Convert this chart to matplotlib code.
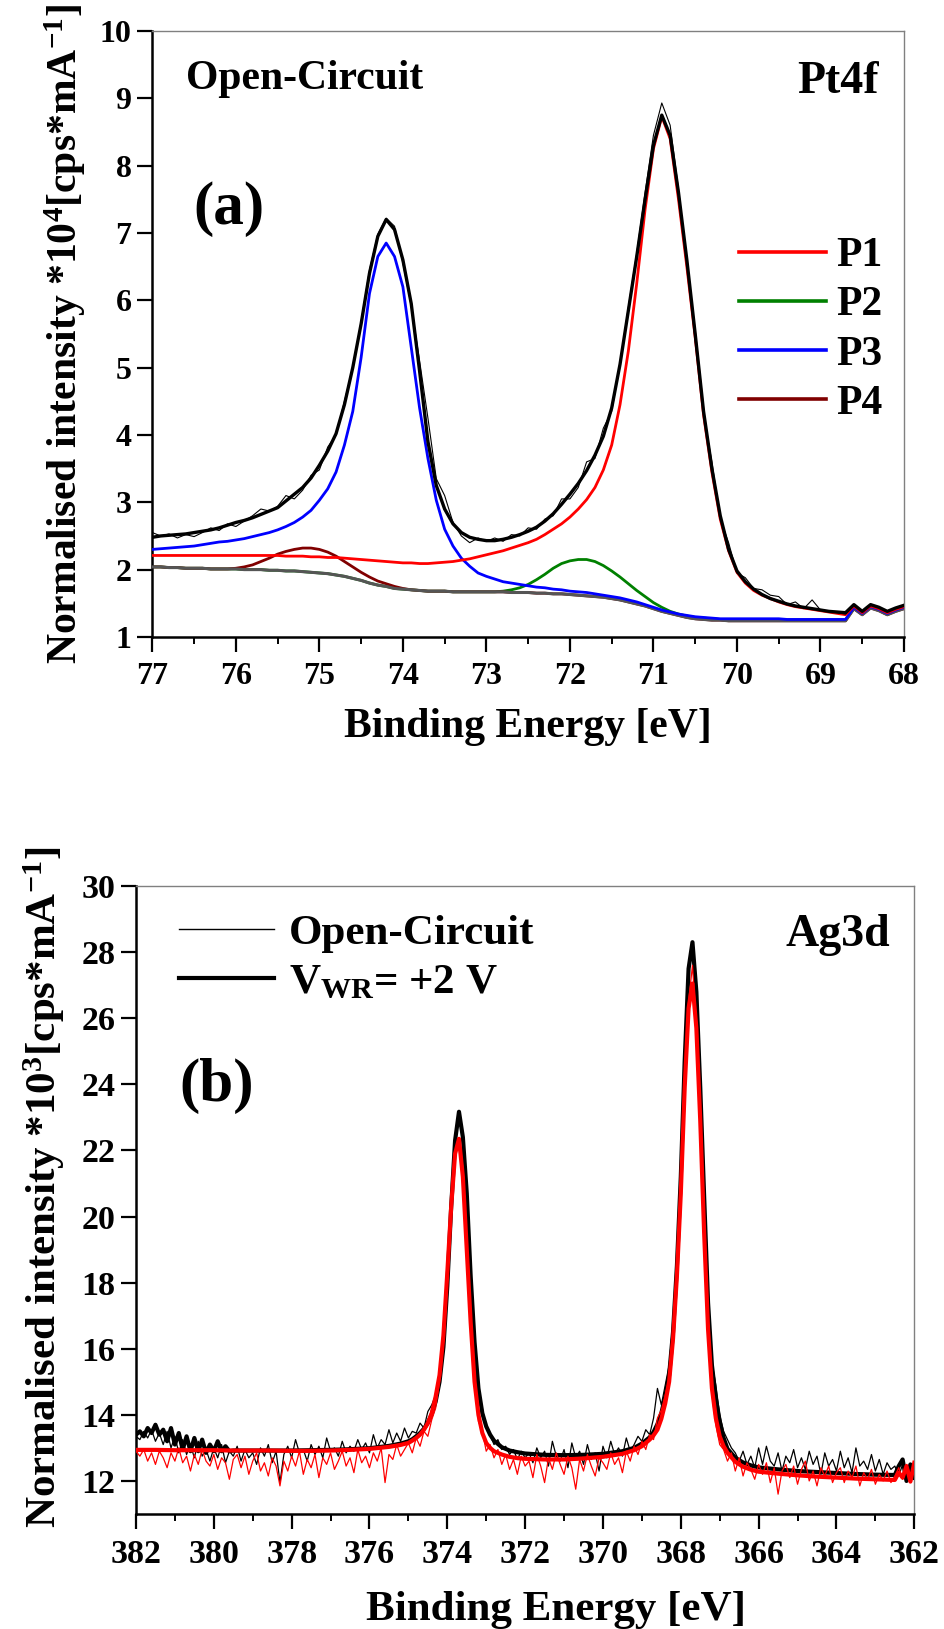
import numpy as np
import matplotlib
matplotlib.use('Agg')
import matplotlib.pyplot as plt
from matplotlib.ticker import MultipleLocator
from matplotlib.lines import Line2D

SERIF = 'Liberation Serif'
plt.rcParams['font.family'] = 'serif'
plt.rcParams['font.serif'] = [SERIF, 'DejaVu Serif']
plt.rcParams['font.weight'] = 'bold'
plt.rcParams['mathtext.fontset'] = 'custom'
plt.rcParams['mathtext.rm'] = SERIF + ':bold'
plt.rcParams['mathtext.bf'] = SERIF + ':bold'
plt.rcParams['mathtext.it'] = SERIF + ':bold'
plt.rcParams['mathtext.default'] = 'rm'

# ---------------- panel (a): Pt4f, 77 -> 68 eV in 0.1 eV steps ----------------
energy_a = np.linspace(77, 68, 91)

raw_a = [2.55, 2.50, 2.53, 2.47, 2.52, 2.49, 2.55, 2.62, 2.58, 2.68,
         2.64, 2.72, 2.80, 2.90, 2.87, 2.94, 3.10, 3.05, 3.18, 3.40,
         3.48, 3.82, 4.00, 4.50, 5.00, 5.68, 6.45, 6.98, 7.22, 7.10,
         6.55, 5.92, 5.10, 4.25, 3.35, 3.10, 2.70, 2.50, 2.40, 2.47,
         2.42, 2.47, 2.42, 2.52, 2.50, 2.62, 2.60, 2.75, 2.80, 3.05,
         3.05, 3.22, 3.60, 3.65, 4.10, 4.35, 5.05, 5.90, 6.70, 7.60,
         8.45, 8.93, 8.60, 7.65, 6.55, 5.40, 4.30, 3.60, 2.75, 2.40,
         1.95, 1.88, 1.72, 1.70, 1.62, 1.60, 1.48, 1.52, 1.42, 1.55,
         1.40, 1.38, 1.36, 1.34, 1.48, 1.38, 1.48, 1.44, 1.38, 1.43,
         1.47]

envelope_a = [2.48, 2.50, 2.51, 2.52, 2.53, 2.55, 2.57, 2.59, 2.62, 2.66,
              2.70, 2.73, 2.77, 2.82, 2.87, 2.92, 3.02, 3.12, 3.22, 3.36,
              3.55, 3.76, 4.02, 4.45, 5.00, 5.65, 6.40, 6.95, 7.20, 7.05,
              6.60, 5.95, 4.95, 3.90, 3.25, 2.90, 2.68, 2.55, 2.48, 2.45,
              2.43, 2.43, 2.45, 2.48, 2.52, 2.57, 2.63, 2.72, 2.83, 2.97,
              3.12, 3.28, 3.47, 3.70, 3.98, 4.40, 5.05, 5.85, 6.65, 7.50,
              8.30, 8.75, 8.45, 7.60, 6.60, 5.50, 4.35, 3.50, 2.80, 2.30,
              1.98, 1.82, 1.71, 1.63, 1.57, 1.53, 1.49, 1.46, 1.44, 1.42,
              1.40, 1.38, 1.37, 1.36, 1.48, 1.38, 1.48, 1.44, 1.38, 1.43,
              1.47]

p1 = [2.21, 2.21, 2.21, 2.21, 2.21, 2.21, 2.21, 2.21, 2.21, 2.21,
      2.21, 2.21, 2.21, 2.21, 2.21, 2.21, 2.20, 2.20, 2.20, 2.19,
      2.19, 2.18, 2.18, 2.17, 2.16, 2.15, 2.14, 2.13, 2.12, 2.11,
      2.10, 2.10, 2.09, 2.09, 2.10, 2.11, 2.12, 2.14, 2.16, 2.19,
      2.22, 2.25, 2.28, 2.32, 2.36, 2.40, 2.45, 2.52, 2.60, 2.68,
      2.78, 2.90, 3.04, 3.22, 3.48, 3.85, 4.45, 5.25, 6.25, 7.35,
      8.25, 8.73, 8.40, 7.50, 6.50, 5.45, 4.30, 3.45, 2.75, 2.28,
      1.96, 1.80, 1.69, 1.62, 1.57, 1.52, 1.48, 1.45, 1.43, 1.41,
      1.39, 1.37, 1.35, 1.33, 1.46, 1.36, 1.46, 1.42, 1.36, 1.41,
      1.45]

p2 = [2.04, 2.04, 2.03, 2.03, 2.02, 2.02, 2.02, 2.01, 2.01, 2.01,
      2.01, 2.00, 2.00, 2.00, 1.99, 1.99, 1.98, 1.98, 1.97, 1.96,
      1.95, 1.94, 1.92, 1.90, 1.87, 1.84, 1.80, 1.77, 1.75, 1.72,
      1.71, 1.70, 1.69, 1.68, 1.68, 1.68, 1.67, 1.67, 1.67, 1.67,
      1.67, 1.67, 1.68, 1.70, 1.73, 1.78, 1.85, 1.93, 2.02, 2.09,
      2.13, 2.15, 2.15, 2.12, 2.06, 1.98, 1.89, 1.79, 1.69, 1.60,
      1.51, 1.44, 1.38, 1.34, 1.31, 1.29, 1.28, 1.27, 1.26, 1.26,
      1.25, 1.25, 1.25, 1.25, 1.25, 1.25, 1.25, 1.25, 1.25, 1.25,
      1.25, 1.25, 1.25, 1.25, 1.43, 1.34, 1.44, 1.40, 1.34, 1.39,
      1.43]

p3 = [2.30, 2.31, 2.32, 2.33, 2.34, 2.35, 2.37, 2.39, 2.41, 2.42,
      2.44, 2.46, 2.49, 2.52, 2.55, 2.59, 2.64, 2.70, 2.78, 2.88,
      3.03, 3.20, 3.45, 3.85, 4.35, 5.15, 6.10, 6.65, 6.85, 6.65,
      6.20, 5.30, 4.40, 3.65, 3.03, 2.60, 2.35, 2.17, 2.05, 1.95,
      1.90, 1.86, 1.82, 1.80, 1.78, 1.76, 1.74, 1.73, 1.71, 1.70,
      1.68, 1.67, 1.66, 1.64, 1.62, 1.60, 1.58, 1.55, 1.52, 1.48,
      1.44, 1.40, 1.37, 1.34, 1.32, 1.30, 1.29, 1.28, 1.27, 1.27,
      1.27, 1.27, 1.27, 1.27, 1.27, 1.27, 1.26, 1.26, 1.26, 1.26,
      1.26, 1.26, 1.26, 1.26, 1.44, 1.35, 1.45, 1.41, 1.35, 1.40,
      1.44]

p4 = [2.04, 2.04, 2.03, 2.03, 2.02, 2.02, 2.02, 2.01, 2.01, 2.01,
      2.02, 2.04, 2.07, 2.12, 2.17, 2.23, 2.27, 2.30, 2.32, 2.32,
      2.30, 2.26, 2.20, 2.12, 2.04, 1.96, 1.89, 1.83, 1.79, 1.75,
      1.72, 1.70, 1.69, 1.68, 1.68, 1.68, 1.67, 1.67, 1.67, 1.67,
      1.67, 1.67, 1.67, 1.66, 1.66, 1.66, 1.65, 1.65, 1.64, 1.64,
      1.63, 1.62, 1.61, 1.60, 1.59, 1.57, 1.55, 1.52, 1.49, 1.46,
      1.42, 1.38, 1.35, 1.32, 1.29, 1.27, 1.26, 1.25, 1.25, 1.24,
      1.24, 1.24, 1.24, 1.24, 1.24, 1.24, 1.24, 1.24, 1.24, 1.24,
      1.24, 1.24, 1.24, 1.24, 1.42, 1.33, 1.43, 1.39, 1.33, 1.38,
      1.42]

background_a = [2.04, 2.04, 2.03, 2.03, 2.02, 2.02, 2.02, 2.01, 2.01, 2.01,
                2.01, 2.00, 2.00, 2.00, 1.99, 1.99, 1.98, 1.98, 1.97, 1.96,
                1.95, 1.94, 1.92, 1.90, 1.87, 1.84, 1.80, 1.77, 1.75, 1.72,
                1.71, 1.70, 1.69, 1.68, 1.68, 1.68, 1.67, 1.67, 1.67, 1.67,
                1.67, 1.67, 1.67, 1.66, 1.66, 1.66, 1.65, 1.65, 1.64, 1.64,
                1.63, 1.62, 1.61, 1.60, 1.59, 1.57, 1.55, 1.52, 1.49, 1.46,
                1.42, 1.38, 1.35, 1.32, 1.29, 1.27, 1.26, 1.25, 1.25, 1.24,
                1.24, 1.24, 1.24, 1.24, 1.24, 1.24, 1.24, 1.24, 1.24, 1.24,
                1.24, 1.24, 1.24, 1.24, 1.42, 1.33, 1.43, 1.39, 1.33, 1.38,
                1.42]

# ---------------- panel (b): Ag3d ----------------
energy_b = np.linspace(382, 362, 201)

oc_raw = [13.35, 13.25, 13.50, 13.30, 13.55, 13.20, 13.45, 13.10, 13.50, 13.00, 13.35,
          12.85, 13.25, 12.80, 13.10, 12.70, 13.20, 12.75, 12.95, 12.60, 13.00,
          12.70, 13.10, 12.55, 12.90, 12.75, 13.05, 12.60, 12.95, 12.70, 12.85,
          12.50, 13.00, 12.75, 13.10, 12.55, 12.90, 11.95, 12.80, 13.05, 12.70,
          13.25, 12.85, 12.95, 12.60, 13.10, 12.80, 13.05, 12.70, 13.30, 12.90,
          13.00, 12.75, 13.20, 12.85, 13.05, 12.90, 13.25, 12.95, 13.15, 12.85,
          13.40, 13.00, 13.25, 13.10, 13.55, 13.15, 13.45, 13.20, 13.60, 13.30,
          13.50, 13.45, 13.75, 13.60, 14.10, 14.30, 14.60, 15.20, 16.30, 18.10,
          20.20, 22.40, 23.10, 22.30, 20.20, 17.70, 16.00, 14.50, 14.20, 13.60,
          13.40, 13.10, 13.25, 12.95, 13.05, 12.80, 12.95, 12.65, 12.90, 12.70,
          12.85, 12.55, 13.00, 12.70, 12.90, 12.45, 13.20, 12.75, 12.60, 12.95,
          12.40, 13.15, 12.70, 12.90, 12.50, 13.10, 12.65, 12.85, 12.30, 13.05,
          12.70, 13.20, 12.80, 13.00, 12.75, 13.30, 12.90, 13.10, 13.35, 13.20,
          13.55, 13.40, 13.90, 14.80, 14.30, 14.90, 15.50, 16.80, 18.60, 21.30,
          24.60, 27.60, 28.20, 26.90, 24.00, 20.80, 17.60, 15.60, 14.90, 14.00,
          13.50, 13.25, 13.00, 12.85, 12.60, 12.90, 12.50, 12.75, 12.40, 13.00,
          12.50, 13.05, 12.60, 12.45, 12.85, 12.30, 12.75, 12.55, 12.95, 12.40,
          12.70, 12.35, 12.90, 12.50, 12.75, 12.20, 12.85, 12.45, 12.65, 12.30,
          12.90, 12.40, 12.70, 12.25, 13.00, 12.45, 12.60, 12.35, 12.80, 12.30,
          12.65, 12.20, 12.55, 12.35, 12.45, 12.15, 12.50, 12.10, 12.40, 12.20]

red_raw = [12.90, 12.75, 12.95, 12.60, 12.85, 12.50, 12.90, 12.70, 12.40, 12.85, 12.60,
           13.00, 12.55, 12.75, 12.30, 12.80, 12.50, 12.95, 12.60, 12.45, 12.80,
           12.35, 12.70, 12.55, 12.05, 12.65, 12.80, 12.40, 12.75, 12.20, 12.60,
           12.85, 12.30, 12.55, 12.15, 12.70, 12.45, 11.85, 12.60, 12.30, 12.75,
           12.45, 12.90, 12.20, 12.65, 12.40, 12.80, 12.10, 12.70, 12.50, 12.85,
           12.35, 12.60, 12.90, 12.45, 12.70, 12.25, 12.95, 12.55, 12.75, 12.40,
           12.85, 12.60, 13.00, 11.95, 12.80, 12.65, 13.10, 12.75, 12.95, 13.15,
           12.85, 13.30, 13.05, 13.50, 13.35, 13.85, 14.20, 15.00, 16.20, 18.00,
           20.10, 21.90, 22.20, 21.50, 19.20, 16.70, 15.20, 13.80, 13.50, 12.90,
           13.10, 12.70, 12.95, 12.50, 12.80, 12.35, 12.65, 12.20, 12.75, 12.45,
           12.60, 12.10, 12.80, 12.45, 11.95, 12.70, 12.35, 12.85, 12.50, 12.20,
           12.75, 12.40, 11.75, 12.65, 12.30, 12.80, 12.45, 12.15, 12.70, 12.55,
           12.35, 12.85, 12.50, 12.70, 12.25, 12.90, 12.60, 13.05, 12.80, 13.20,
           12.95, 13.40, 13.25, 13.90, 14.15, 14.60, 15.10, 16.40, 18.20, 20.80,
           23.90, 26.50, 27.60, 25.80, 22.80, 19.30, 16.40, 14.60, 13.70, 13.10,
           12.95, 12.60, 12.85, 12.30, 12.70, 12.15, 12.55, 12.35, 12.05, 12.50,
           12.20, 12.55, 11.95, 12.40, 11.60, 12.30, 12.50, 12.10, 12.45, 11.90,
           12.35, 12.60, 12.00, 12.30, 11.85, 12.40, 12.15, 12.45, 11.95, 12.25,
           12.40, 11.95, 12.30, 12.10, 12.45, 11.85, 12.25, 12.05, 12.35, 11.90,
           12.20, 12.00, 12.30, 11.95, 12.15, 12.40, 12.05, 12.50, 12.20, 12.35]

fit_e = np.array([382.0, 381.5, 381.0, 380.5, 380.0, 379.5, 379.0, 378.5, 378.0, 377.5,
                  377.0, 376.5, 376.0, 375.5, 375.2, 375.0, 374.9, 374.8, 374.7, 374.6,
                  374.5, 374.4, 374.3, 374.2, 374.1, 374.0, 373.9, 373.8, 373.7, 373.6,
                  373.5, 373.4, 373.3, 373.2, 373.1, 373.0, 372.9, 372.8, 372.6, 372.4,
                  372.2, 372.0, 371.5, 371.0, 370.5, 370.0, 369.5, 369.2, 369.0, 368.8,
                  368.7, 368.6, 368.5, 368.4, 368.3, 368.2, 368.1, 368.0, 367.9, 367.8,
                  367.7, 367.6, 367.5, 367.4, 367.3, 367.2, 367.1, 367.0, 366.9, 366.8,
                  366.6, 366.4, 366.2, 366.0, 365.5, 365.0, 364.5, 364.0, 363.5, 363.0,
                  362.5])

vwr_fit = np.array([12.92, 12.92, 12.92, 12.92, 12.92, 12.92, 12.92, 12.92, 12.92, 12.93,
                    12.94, 12.96, 12.99, 13.06, 13.13, 13.20, 13.26, 13.35, 13.45, 13.58,
                    13.76, 14.02, 14.40, 15.00, 16.05, 17.90, 20.30, 22.30, 23.17, 22.40,
                    20.70, 18.20, 16.20, 14.80, 14.05, 13.65, 13.40, 13.22, 13.02, 12.92,
                    12.87, 12.83, 12.79, 12.78, 12.79, 12.82, 12.90, 13.00, 13.13, 13.32,
                    13.48, 13.72, 14.05, 14.55, 15.20, 16.50, 18.50, 21.20, 24.70, 27.50,
                    28.30, 26.80, 23.90, 20.60, 17.40, 15.50, 14.50, 13.80, 13.30, 12.97,
                    12.70, 12.56, 12.47, 12.41, 12.35, 12.30, 12.27, 12.24, 12.21, 12.19,
                    12.18])

oc_fit = np.array([12.94, 12.94, 12.93, 12.93, 12.93, 12.92, 12.92, 12.92, 12.91, 12.91,
                   12.92, 12.94, 12.97, 13.03, 13.09, 13.15, 13.22, 13.30, 13.40, 13.55,
                   13.75, 14.05, 14.55, 15.20, 16.40, 18.30, 20.30, 21.90, 22.35, 21.20,
                   19.00, 16.80, 15.00, 14.00, 13.45, 13.15, 13.00, 12.90, 12.80, 12.73,
                   12.69, 12.67, 12.65, 12.65, 12.68, 12.73, 12.82, 12.93, 13.05, 13.25,
                   13.38, 13.55, 13.88, 14.35, 15.00, 16.30, 18.20, 20.70, 23.90, 26.30,
                   27.05, 25.70, 22.90, 19.50, 16.60, 14.80, 13.90, 13.35, 13.05, 12.85,
                   12.58, 12.43, 12.34, 12.28, 12.22, 12.17, 12.13, 12.10, 12.07, 12.05,
                   12.03])

# noisy ends of the V_WR curve, outside the fitted window
vwr_left_e = np.linspace(382, 379.6, 25)
vwr_left = [13.40, 13.50, 13.35, 13.60, 13.45, 13.70, 13.40, 13.55, 13.20, 13.60,
            13.10, 13.45, 12.95, 13.35, 12.90, 13.30, 12.90, 13.25, 12.85, 13.10,
            12.90, 13.20, 12.90, 13.05, 12.90]
end_e = [362.4, 362.3, 362.2, 362.1, 362.0]
vwr_end = [12.45, 12.65, 12.00, 12.50, 12.10]
oc_end = [12.25, 12.10, 12.45, 11.98, 12.55]

fig = plt.figure(figsize=(9.45, 16.29), dpi=100)
ax1 = fig.add_axes([0.1612, 0.6090, 0.7954, 0.3720])
ax2 = fig.add_axes([0.1439, 0.0706, 0.8236, 0.3855])


def style_axes(ax, ticksize):
    for s in ['left', 'bottom']:
        ax.spines[s].set_linewidth(1.8)
        ax.spines[s].set_color('black')
    for s in ['top', 'right']:
        ax.spines[s].set_linewidth(1.0)
        ax.spines[s].set_color('#808080')
    ax.tick_params(which='both', direction='out', top=False, right=False)
    ax.tick_params(which='major', length=11, width=1.6, labelsize=ticksize, pad=4,
                   labelfontfamily=SERIF)
    ax.tick_params(axis='x', which='major', pad=7)
    ax.tick_params(which='minor', length=5, width=1.4)


def bold(size):
    return {'family': SERIF, 'weight': 'bold', 'size': size}


# panel (a)
ax1.plot(energy_a, p2, color='#008000', lw=2.0, zorder=2)
ax1.plot(energy_a, p4, color='#800000', lw=2.0, zorder=2)
ax1.plot(energy_a, background_a, color='#555555', lw=2.2, zorder=3)
ax1.plot(energy_a, p3, color='#0000ff', lw=2.0, zorder=4)
ax1.plot(energy_a, p1, color='#ff0000', lw=2.0, zorder=4)
ax1.plot(energy_a, envelope_a, color='black', lw=2.4, zorder=5)
ax1.plot(energy_a, raw_a, color='black', lw=0.8, zorder=6)

ax1.set_xlim(77, 68)
ax1.set_ylim(1, 10)
ax1.xaxis.set_major_locator(MultipleLocator(1))
ax1.xaxis.set_minor_locator(MultipleLocator(0.5))
ax1.yaxis.set_major_locator(MultipleLocator(1))
style_axes(ax1, 23)
ax1.set_xlabel('Binding Energy [eV]', fontdict=bold(30))
ax1.set_ylabel(r'Normalised intensity *10$^{4}$[cps*mA$^{-1}$]', fontdict=bold(30))
ax1.xaxis.set_label_coords(0.5, -0.117)
ax1.yaxis.set_label_coords(-0.086, 0.5)

handles_a = [Line2D([], [], color=c, lw=2.6) for c in ['#ff0000', '#008000', '#0000ff', '#800000']]
ax1.legend(handles_a, ['P1', 'P2', 'P3', 'P4'], loc='upper right', bbox_to_anchor=(0.972, 0.660),
           frameon=False, handlelength=2.1, handletextpad=0.25, labelspacing=0.265,
           borderpad=0, borderaxespad=0, prop=bold(30))
ax1.text(0.045, 0.905, 'Open-Circuit', transform=ax1.transAxes, fontdict=bold(30))
ax1.text(0.966, 0.897, 'Pt4f', transform=ax1.transAxes, fontdict=bold(33), ha='right')
ax1.text(0.055, 0.681, '(a)', transform=ax1.transAxes, fontdict=bold(44))

# panel (b)
vwr_e_all = np.concatenate([vwr_left_e, fit_e[fit_e <= 379.5], end_e])
vwr_all = np.concatenate([vwr_left, vwr_fit[fit_e <= 379.5], vwr_end])
oc_e_all = np.concatenate([fit_e, end_e])
oc_all = np.concatenate([oc_fit, oc_end])

ax2.plot(energy_b, oc_raw, color='black', lw=0.9, zorder=2)
ax2.plot(vwr_e_all, vwr_all, color='black', lw=3.0, zorder=3)
ax2.plot(energy_b, red_raw, color='#ff0000', lw=0.9, zorder=4)
ax2.plot(oc_e_all, oc_all, color='#ff0000', lw=3.0, zorder=5)

ax2.set_xlim(382, 362)
ax2.set_ylim(11, 30)
ax2.xaxis.set_major_locator(MultipleLocator(2))
ax2.xaxis.set_minor_locator(MultipleLocator(1))
ax2.yaxis.set_major_locator(MultipleLocator(2))
style_axes(ax2, 24.5)
ax2.set_xlabel('Binding Energy [eV]', fontdict=bold(31))
ax2.set_ylabel(r'Normalised intensity *10$^{3}$[cps*mA$^{-1}$]', fontdict=bold(31))
ax2.xaxis.set_label_coords(0.540, -0.122)
ax2.yaxis.set_label_coords(-0.088, 0.52)

h_oc = Line2D([], [], color='black', lw=1.0)
h_vwr = Line2D([], [], color='black', lw=3.0)
ax2.legend([h_oc, h_vwr], ['Open-Circuit', r'V$_{\mathrm{WR}}$= +2 V'], loc='upper left',
           bbox_to_anchor=(0.055, 0.955), frameon=False, handlelength=2.2, handletextpad=0.35,
           labelspacing=0.22, borderpad=0, borderaxespad=0, prop=bold(31))
ax2.text(0.969, 0.905, 'Ag3d', transform=ax2.transAxes, fontdict=bold(33), ha='right')
ax2.text(0.056, 0.658, '(b)', transform=ax2.transAxes, fontdict=bold(44))

fig.savefig('out.png', dpi=100)
